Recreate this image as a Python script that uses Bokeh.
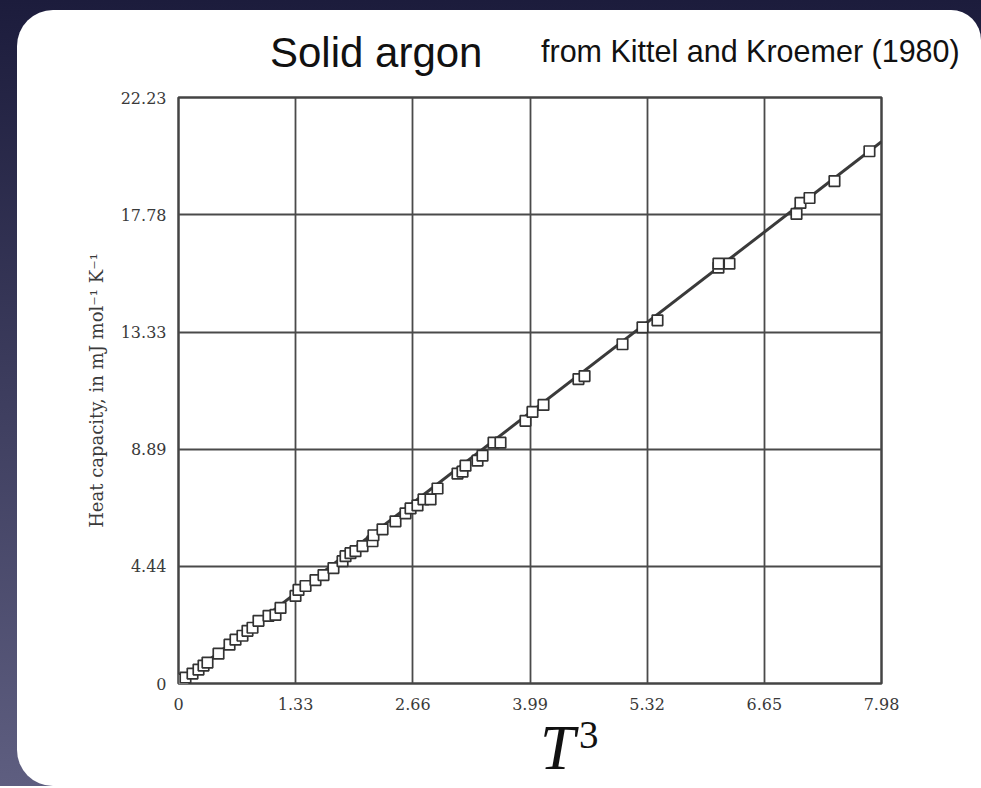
from bokeh.plotting import figure
from bokeh.layouts import column
from bokeh.models import FixedTicker, Range1d, ColumnDataSource, Div
from bokeh.embed import file_html
from bokeh.resources import INLINE

# ---- data ----
t_cubed = [0.057, 0.079, 0.159, 0.227, 0.284, 0.329, 0.454, 0.579, 0.647, 0.726,
           0.783, 0.840, 0.908, 1.022, 1.101, 1.158, 1.328, 1.362, 1.442, 1.555,
           1.646, 1.759, 1.862, 1.896, 1.952, 2.009, 2.089, 2.202, 2.213, 2.316,
           2.463, 2.577, 2.634, 2.713, 2.781, 2.861, 2.940, 3.167, 3.224, 3.258,
           3.394, 3.451, 3.576, 3.655, 3.939, 4.018, 4.143, 4.540, 4.609, 5.040,
           5.267, 5.437, 6.129, 6.129, 6.254, 7.015, 7.060, 7.163, 7.446, 7.843]
heat_capacity = [0.151, 0.226, 0.377, 0.528, 0.679, 0.793, 1.132, 1.472, 1.661, 1.812,
                 2.000, 2.114, 2.378, 2.566, 2.604, 2.868, 3.321, 3.548, 3.699, 3.925,
                 4.114, 4.378, 4.642, 4.831, 4.944, 5.020, 5.208, 5.397, 5.623, 5.850,
                 6.152, 6.454, 6.643, 6.756, 6.982, 6.982, 7.397, 7.964, 8.039, 8.265,
                 8.454, 8.643, 9.134, 9.134, 9.964, 10.303, 10.568, 11.549, 11.662, 12.870,
                 13.512, 13.776, 15.776, 15.927, 15.927, 17.814, 18.229, 18.418, 19.059, 20.191]
fit_x = [0.0, 7.98]
fit_y = [0.0, 20.55]

x_ticks = [0, 1.33, 2.66, 3.99, 5.32, 6.65, 7.98]
x_tick_labels = ["0", "1.33", "2.66", "3.99", "5.32", "6.65", "7.98"]
y_ticks = [0, 4.44, 8.89, 13.33, 17.78, 22.23]
y_tick_labels = ["0", "4.44", "8.89", "13.33", "17.78", "22.23"]

title_text = "Solid argon"
source_text = "from Kittel and Kroemer (1980)"
y_label = "Heat capacity, in mJ mol\u207b\u00b9 K\u207b\u00b9"
x_label_main = "T"
x_label_power = "3"

SERIF = "DejaVu Serif"
DARK = "#3a3a3a"
W = 964

# ---- header with title and source ----
header_html = (
    '<div style="position:relative;width:964px;height:78px;">'
    '<span style="position:absolute;left:253px;top:22px;font-family:\'Liberation Sans\';'
    'font-size:42px;line-height:1;color:#111;white-space:nowrap;">' + title_text + '</span>'
    '<span style="position:absolute;left:524px;top:26px;font-family:\'Liberation Sans\';'
    'font-size:30.5px;line-height:1;color:#111;white-space:nowrap;">' + source_text + '</span>'
    '</div>'
)
header = Div(text=header_html, width=W, height=78, margin=(0, 0, 0, 0),
             styles={"background-color": "white", "border-top-left-radius": "36px",
                     "border-top-right-radius": "30px", "overflow": "hidden"})

# ---- main chart ----
p = figure(width=W, height=624, output_backend="svg", toolbar_location=None,
           x_range=Range1d(0, 7.98), y_range=Range1d(0, 22.23),
           min_border_left=161, min_border_right=100, min_border_top=9,
           min_border_bottom=26, margin=(0, 0, 0, 0))
p.styles = {"background-color": "white"}
p.border_fill_color = "white"
p.background_fill_color = "white"
p.outline_line_color = "#444444"
p.outline_line_width = 2.5

p.xaxis.ticker = FixedTicker(ticks=x_ticks)
p.yaxis.ticker = FixedTicker(ticks=y_ticks)
p.xaxis.major_label_overrides = {t: s for t, s in zip(x_ticks, x_tick_labels)}
p.yaxis.major_label_overrides = {t: s for t, s in zip(y_ticks, y_tick_labels)}
for ax in (p.xaxis, p.yaxis):
    ax.axis_line_color = None
    ax.major_tick_line_color = None
    ax.minor_tick_line_color = None
    ax.major_label_text_font = SERIF
    ax.major_label_text_font_size = "16px"
    ax.major_label_text_color = DARK
p.yaxis.major_label_standoff = 6
p.xaxis.major_label_standoff = 8

p.yaxis.axis_label = y_label
p.yaxis.axis_label_text_font = SERIF
p.yaxis.axis_label_text_font_style = "normal"
p.yaxis.axis_label_text_font_size = "18px"
p.yaxis.axis_label_text_color = DARK
p.yaxis.axis_label_standoff = 11

p.xgrid.grid_line_color = "#4a4a4a"
p.ygrid.grid_line_color = "#4a4a4a"
p.xgrid.grid_line_width = 1.8
p.ygrid.grid_line_width = 1.8

p.line(fit_x, fit_y, line_color="#3a3a3a", line_width=3)
src = ColumnDataSource(dict(x=t_cubed, y=heat_capacity))
p.scatter("x", "y", source=src, marker="square", size=10.5, fill_color="white",
          line_color="#333333", line_width=1.7)

# ---- footer with the x-axis label T^3 ----
footer_html = (
    '<div style="position:relative;width:964px;height:74px;">'
    '<span style="position:absolute;left:523px;top:5px;font-family:\'Liberation Serif\';'
    'font-style:italic;font-size:63px;line-height:1;color:#111;">' + x_label_main + '</span>'
    '<span style="position:absolute;left:562px;top:3px;font-family:\'Liberation Serif\';'
    'font-size:39px;line-height:1;color:#111;">' + x_label_power + '</span>'
    '</div>'
)
footer = Div(text=footer_html, width=W, height=74, margin=(0, 0, 0, 0),
             styles={"background-color": "white", "border-bottom-left-radius": "36px",
                     "overflow": "hidden"})

root = column(header, p, footer, spacing=0,
              styles={"background": "linear-gradient(to bottom, #1c1c3c, #5e5e80)",
                      "padding-left": "17px", "padding-top": "10px"})

open("out.html", "w").write(file_html(root, INLINE))
